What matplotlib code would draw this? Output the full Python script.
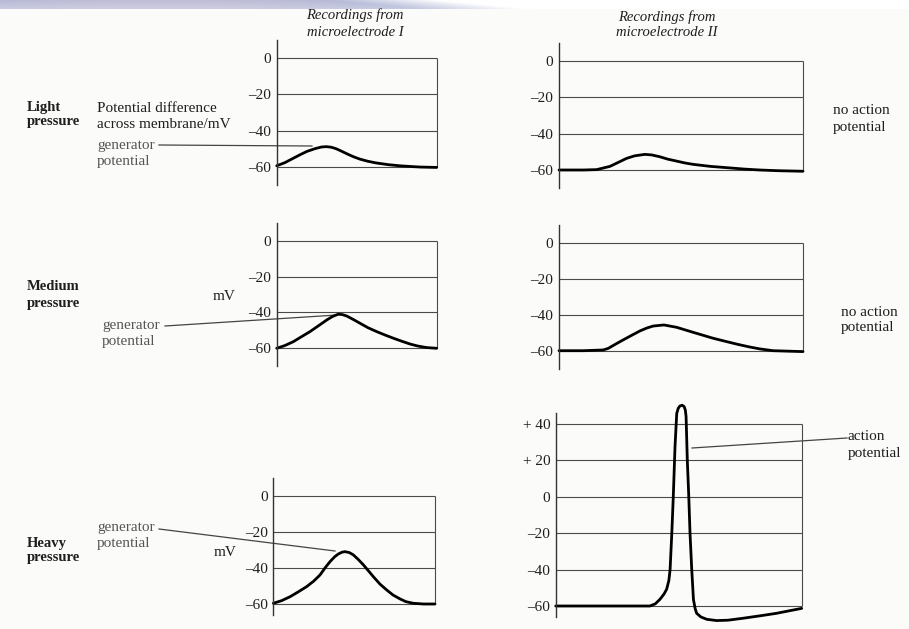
import numpy as np
import matplotlib
matplotlib.use("Agg")
import matplotlib.pyplot as plt

# ---------------- data ----------------
# time axis in arbitrary units (0..100 across each recording box)
light_I_t = [0, 5, 10, 15, 19, 24, 28, 31, 34, 37, 40, 44, 48, 52, 57, 62, 70, 77, 84, 90, 100]
light_I_v = [-59.5, -57.8, -55.5, -53.2, -51.5, -50.0, -49.1, -48.9, -49.2, -50.0, -51.2, -52.9, -54.5, -55.8, -57.0, -57.9, -58.9, -59.5, -59.9, -60.2, -60.4]

light_II_t = [0, 10, 15.4, 20.9, 24, 27.7, 31, 35.2, 38, 41.3, 44.5, 48.2, 51.5, 55, 62, 68.6, 76, 82.3, 90, 100]
light_II_v = [-60, -60, -59.8, -58.0, -56.0, -53.6, -52.2, -51.4, -51.7, -52.7, -54.0, -55.1, -56.1, -56.9, -58.0, -58.7, -59.5, -60.0, -60.4, -60.7]

medium_I_t = [0, 5, 10.4, 15, 20.8, 26, 31.3, 35, 38.5, 41, 43.8, 48, 52, 57, 62.5, 68, 73, 78, 83.3, 88, 93.8, 100]
medium_I_v = [-60, -58.5, -56.3, -53.8, -50.7, -47.5, -44.2, -42.2, -41.0, -41.2, -42.0, -44.0, -46.0, -48.5, -50.7, -52.7, -54.4, -56.0, -57.6, -58.7, -59.6, -60]

medium_II_t = [0, 10, 18.1, 20.2, 23, 26.3, 30, 33.2, 36, 38.6, 43, 48.2, 55, 63.2, 72.7, 78, 82.3, 87.7, 100]
medium_II_v = [-60, -60, -59.6, -58.7, -56.5, -54.0, -51.3, -49.0, -47.4, -46.3, -45.7, -47.0, -49.8, -53.1, -56.3, -57.9, -59.0, -60.0, -60.5]

heavy_I_t = [0, 5, 10.3, 15, 20.6, 25, 28.9, 32, 35.1, 38, 40.2, 42.5, 44.3, 47, 49.5, 52.5, 55.7, 59, 61.9, 66, 70.1, 74, 78.4, 82, 86.6, 93, 100]
heavy_I_v = [-59.6, -58.2, -56.0, -53.5, -50.4, -47.3, -43.9, -40.0, -36.5, -33.8, -32.3, -31.3, -31.0, -31.5, -32.8, -35.3, -38.3, -41.8, -44.9, -49.0, -52.2, -55.0, -57.2, -58.7, -59.6, -60.0, -60.0]

heavy_II_t = [0, 20, 38.3, 40.5, 42.4, 44, 45.1, 46.0, 46.5, 47.2, 47.8, 48.5, 49.2, 49.8, 50.5, 51.4, 52.2, 52.7, 53.0, 53.5, 54.1, 54.6, 55.3, 56.0, 56.7, 57.3, 59, 61.4, 65.4, 70, 76.3, 83, 89.8, 100]
heavy_II_v = [-60, -60, -60, -58.8, -56.3, -53.5, -50.8, -46.0, -40, -20, 0, 27.4, 45.7, 48.5, 49.8, 50.2, 49.5, 47.5, 44, 20, 0, -20, -40, -56.5, -61.5, -64.0, -66.0, -67.3, -68.0, -67.8, -66.7, -65.4, -64.0, -61.3]

ticks_std = [0, -20, -40, -60]
ticks_std_labels = ["0", "\u201320", "\u201340", "\u201360"]
ticks_ap = [40, 20, 0, -20, -40, -60]
ticks_ap_labels = ["+ 40", "+ 20", "0", "\u201320", "\u201340", "\u201360"]

# ---------------- figure ----------------
W, H = 909, 629
fig = plt.figure(figsize=(W / 100, H / 100), dpi=100)
fig.patch.set_facecolor("#fbfbf9")
plt.rcParams["font.family"] = ["Liberation Serif", "DejaVu Serif"]

# scanned-page top band (decoration)
bg = fig.add_axes([0, 0, 1, 1], zorder=-10)
bg.set_xlim(0, W)
bg.set_ylim(H, 0)
bg.axis("off")
nx, ny = 300, 20
band = np.ones((ny, nx, 3))
xs = np.linspace(0, 1, nx)
ys = np.linspace(0, 1, ny)
for j, yy in enumerate(ys):
    fade = np.clip((xs - 0.36 - 0.10 * yy) / 0.12, 0, 1)
    vfade = 1 - 0.25 * yy
    base = np.array([0.72, 0.73, 0.84]) + 0.06 * np.sin(xs * 9)[:, None] * np.array([0.5, 0.2, 0.0])[None, :]
    col = base * (1 - fade[:, None]) + 1.0 * fade[:, None]
    col = 1 - (1 - col) * vfade
    band[j] = np.clip(col, 0, 1)
bg.imshow(band, extent=[0, W, 9, 0], aspect="auto")

TXT = "#1e1e1e"
GRID = "#4a4a4a"
GEN = "#555555"
FS = 11


def panel(xl, xr, y0, y60, ylim, t, v, ticks, labels, top_tick, bottom_tick):
    ppm = (y60 - y0) / 60.0            # pixels per mV
    ytop = y0 - ppm * ylim[1]
    ybot = y0 - ppm * ylim[0]
    ax = fig.add_axes([xl / W, 1 - ybot / H, (xr - xl) / W, (ybot - ytop) / H])
    ax.set_xlim(0, 100)
    ax.set_ylim(*ylim)
    ax.patch.set_alpha(0)
    for s in ["top", "right", "bottom"]:
        ax.spines[s].set_visible(False)
    ax.spines["left"].set_color("#333333")
    ax.spines["left"].set_linewidth(1.0)
    ax.set_xticks([])
    ax.set_yticks(ticks)
    ax.set_yticklabels(labels)
    ax.tick_params(axis="y", length=0, pad=4, labelsize=FS, labelcolor=TXT)
    ax.hlines(ticks, 0, 100, color=GRID, lw=0.8, clip_on=False)
    ax.vlines(100, top_tick, bottom_tick, color=GRID, lw=0.8, clip_on=False)
    ax.plot(t, v, color="black", lw=2.0, solid_capstyle="round",
            solid_joinstyle="round", clip_on=False)
    return ax


panel(276.7, 436.7, 58.3, 166.7, (-70, 10), light_I_t, light_I_v,
      ticks_std, ticks_std_labels, 0, -60)
panel(559, 803, 61, 170, (-70, 10), light_II_t, light_II_v,
      ticks_std, ticks_std_labels, 0, -60)
panel(276.7, 436.7, 240.7, 348.3, (-70, 10), medium_I_t, medium_I_v,
      ticks_std, ticks_std_labels, 0, -60)
panel(559, 803, 242.7, 350.7, (-70, 10), medium_II_t, medium_II_v,
      ticks_std, ticks_std_labels, 0, -60)
panel(273.3, 435, 495.7, 604, (-66, 10), heavy_I_t, heavy_I_v,
      ticks_std, ticks_std_labels, 0, -60)
panel(555.7, 801.7, 496.7, 606, (-66, 46), heavy_II_t, heavy_II_v,
      ticks_ap, ticks_ap_labels, 40, -60)

# ---------------- text ----------------
def txt(x, y, s, **kw):
    kw.setdefault("color", TXT)
    kw.setdefault("fontsize", FS)
    bg.text(x, y, s, va="center", **kw)

# headings
txt(355, 15, "Recordings from", ha="center", style="italic", fontsize=10.5)
txt(355, 32, "microelectrode I", ha="center", style="italic", fontsize=10.5)
txt(667, 17, "Recordings from", ha="center", style="italic", fontsize=10.5)
txt(667, 33, "microelectrode II", ha="center", style="italic", fontsize=10.5)

# row labels
for y1, y2, a, b in [(107, 122, "Light", "pressure"),
                     (287, 303, "Medium", "pressure"),
                     (543, 558, "Heavy", "pressure")]:
    txt(27, y1, a, ha="left", weight="bold", fontsize=10.5)
    txt(27, y2, b, ha="left", weight="bold", fontsize=10.5)

txt(97, 108, "Potential difference", ha="left")
txt(97, 124, "across membrane/mV", ha="left")
txt(213, 297, "mV", ha="left")
txt(214, 553, "mV", ha="left")

# generator potential callouts
txt(97, 145, "generator", ha="left", color=GEN)
txt(97, 162, "potential", ha="left", color=GEN)
bg.plot([159, 312], [145, 146], color="#444444", lw=0.9)

txt(102, 325, "generator", ha="left", color=GEN)
txt(102, 341, "potential", ha="left", color=GEN)
bg.plot([165, 337], [326, 315], color="#444444", lw=0.9)

txt(97, 527, "generator", ha="left", color=GEN)
txt(97, 544, "potential", ha="left", color=GEN)
bg.plot([159, 335], [529, 551], color="#444444", lw=0.9)

# right-hand notes
txt(833, 110, "no action", ha="left")
txt(833, 127, "potential", ha="left")
txt(841, 312, "no action", ha="left")
txt(841, 328, "potential", ha="left")
txt(848, 436, "action", ha="left")
txt(848, 453, "potential", ha="left")
bg.plot([692, 847], [448, 438], color="#444444", lw=0.9)

fig.savefig("out.png", dpi=100, facecolor=fig.get_facecolor())
